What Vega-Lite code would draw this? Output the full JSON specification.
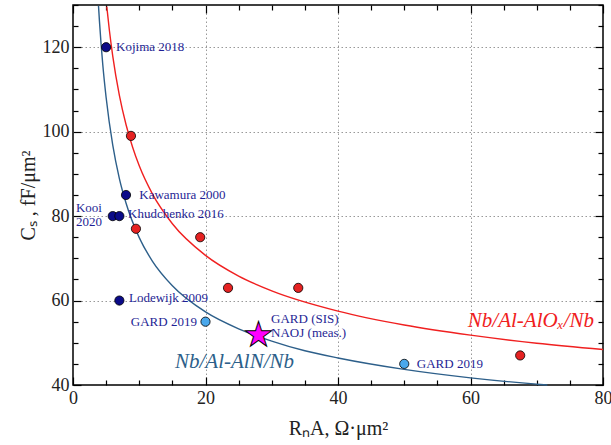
{
  "$schema": "https://vega.github.io/schema/vega-lite/v6.json",
  "width": 530,
  "height": 380,
  "autosize": {"type": "none"},
  "padding": {"left": 73, "top": 5, "right": 8, "bottom": 60},
  "config": {
    "view": {"stroke": "#000", "strokeWidth": 1.5}
  },
  "resolve": {"axis": {"x": "independent", "y": "independent"}},
  "layer": [
    {
      "data": {"values": [
        {"x": 3.85, "y": 129.8, "s": "AlN"}, {"x": 4, "y": 126, "s": "AlN"}, {"x": 4.5, "y": 115.8, "s": "AlN"},
        {"x": 5, "y": 108.1, "s": "AlN"}, {"x": 6, "y": 96.8, "s": "AlN"}, {"x": 7, "y": 88.9, "s": "AlN"},
        {"x": 8, "y": 83.1, "s": "AlN"}, {"x": 10, "y": 74.9, "s": "AlN"}, {"x": 12, "y": 69.3, "s": "AlN"},
        {"x": 15, "y": 63.5, "s": "AlN"}, {"x": 20, "y": 57.3, "s": "AlN"}, {"x": 25, "y": 53.3, "s": "AlN"},
        {"x": 30, "y": 50.4, "s": "AlN"}, {"x": 35, "y": 48.1, "s": "AlN"}, {"x": 40, "y": 46.4, "s": "AlN"},
        {"x": 50, "y": 43.7, "s": "AlN"}, {"x": 60, "y": 41.7, "s": "AlN"}, {"x": 70, "y": 40.2, "s": "AlN"},
        {"x": 71.6, "y": 40.0, "s": "AlN"},
        {"x": 5.1, "y": 129.6, "s": "AlOx"}, {"x": 5.5, "y": 123.9, "s": "AlOx"}, {"x": 6, "y": 117.9, "s": "AlOx"},
        {"x": 7, "y": 108.6, "s": "AlOx"}, {"x": 8, "y": 101.7, "s": "AlOx"}, {"x": 9, "y": 96.3, "s": "AlOx"},
        {"x": 10, "y": 91.9, "s": "AlOx"}, {"x": 12, "y": 85.2, "s": "AlOx"}, {"x": 15, "y": 78.2, "s": "AlOx"},
        {"x": 20, "y": 70.7, "s": "AlOx"}, {"x": 25, "y": 65.8, "s": "AlOx"}, {"x": 30, "y": 62.3, "s": "AlOx"},
        {"x": 40, "y": 57.5, "s": "AlOx"}, {"x": 50, "y": 54.2, "s": "AlOx"}, {"x": 60, "y": 51.8, "s": "AlOx"},
        {"x": 70, "y": 49.9, "s": "AlOx"}, {"x": 80, "y": 48.4, "s": "AlOx"}
      ]},
      "mark": {"type": "line", "strokeWidth": 1.4, "interpolate": "monotone"},
      "encoding": {
        "x": {
          "field": "x", "type": "quantitative",
          "scale": {"domain": [0, 80], "nice": false, "zero": false},
          "axis": {
            "orient": "bottom",
            "values": [0,5,10,15,20,25,30,35,40,45,50,55,60,65,70,75,80],
            "labelExpr": "datum.value % 20 === 0 ? datum.label : ''",
            "labelOverlap": false, "labelFlush": false,
            "tickSize": {"condition": {"test": "datum.value % 20 === 0", "value": -8}, "value": -5},
            "tickColor": "#000", "tickWidth": 1.2,
            "grid": true,
            "gridOpacity": {"condition": {"test": "datum.value % 20 === 0 && datum.value > 0 && datum.value < 80", "value": 1}, "value": 0},
            "gridDash": [1.5, 2.5], "gridColor": "#999", "gridWidth": 1,
            "domain": false,
            "labelFont": "Liberation Serif", "labelFontSize": 18, "labelColor": "#222", "labelPadding": 12,
            "title": "RₙA, Ω·μm²", "titleFont": "Liberation Serif", "titleFontSize": 20, "titleFontWeight": "normal", "titleColor": "#222", "titlePadding": 8
          }
        },
        "y": {
          "field": "y", "type": "quantitative",
          "scale": {"domain": [40, 130], "nice": false, "zero": false},
          "axis": {
            "orient": "left",
            "values": [40,45,50,55,60,65,70,75,80,85,90,95,100,105,110,115,120,125,130],
            "labelExpr": "datum.value % 20 === 0 ? datum.label : ''",
            "labelOverlap": false, "labelFlush": false,
            "tickSize": {"condition": {"test": "datum.value % 20 === 0", "value": -8}, "value": -5},
            "tickColor": "#000", "tickWidth": 1.2,
            "grid": true,
            "gridOpacity": {"condition": {"test": "datum.value % 20 === 0 && datum.value > 40", "value": 1}, "value": 0},
            "gridDash": [1.5, 2.5], "gridColor": "#999", "gridWidth": 1,
            "domain": false,
            "labelFont": "Liberation Serif", "labelFontSize": 18, "labelColor": "#222", "labelPadding": 12,
            "title": "Cₛ , fF/μm²", "titleFont": "Liberation Serif", "titleFontSize": 20, "titleFontWeight": "normal", "titleColor": "#222", "titlePadding": 4
          }
        },
        "color": {
          "field": "s", "type": "nominal",
          "scale": {"domain": ["AlN", "AlOx"], "range": ["#2d5f8a", "#f02020"]},
          "legend": null
        }
      }
    },
    {
      "data": {"values": [
        {"x": 5, "y": 120, "g": "navy"}, {"x": 8, "y": 85, "g": "navy"}, {"x": 6, "y": 80, "g": "navy"},
        {"x": 7, "y": 80, "g": "navy"}, {"x": 7, "y": 60, "g": "navy"},
        {"x": 20, "y": 55, "g": "light"}, {"x": 50, "y": 45, "g": "light"},
        {"x": 8.75, "y": 99, "g": "red"}, {"x": 9.5, "y": 77, "g": "red"}, {"x": 19.2, "y": 75, "g": "red"},
        {"x": 23.4, "y": 63, "g": "red"}, {"x": 34, "y": 63, "g": "red"}, {"x": 67.5, "y": 47, "g": "red"}
      ]},
      "mark": {"type": "circle", "size": 85, "stroke": "#000", "strokeWidth": 0.8, "opacity": 1},
      "encoding": {
        "x": {
          "field": "x", "type": "quantitative",
          "axis": {
            "orient": "top",
            "values": [0,5,10,15,20,25,30,35,40,45,50,55,60,65,70,75,80],
            "labels": false, "grid": false, "domain": false, "title": null,
            "tickSize": {"condition": {"test": "datum.value % 20 === 0", "value": -8}, "value": -5},
            "tickColor": "#000", "tickWidth": 1.2
          }
        },
        "y": {
          "field": "y", "type": "quantitative",
          "axis": {
            "orient": "right",
            "values": [40,45,50,55,60,65,70,75,80,85,90,95,100,105,110,115,120,125,130],
            "labels": false, "grid": false, "domain": false, "title": null,
            "tickSize": {"condition": {"test": "datum.value % 20 === 0", "value": -8}, "value": -5},
            "tickColor": "#000", "tickWidth": 1.2
          }
        },
        "fill": {
          "field": "g", "type": "nominal",
          "scale": {"domain": ["navy", "light", "red"], "range": ["#0a0a88", "#4aa8ec", "#e52222"]},
          "legend": null
        }
      }
    },
    {
      "data": {"values": [{"x": 28, "y": 51.5, "t": "★"}]},
      "mark": {"type": "text", "align": "center", "baseline": "middle", "fontSize": 34, "font": "DejaVu Sans", "fill": "#ff00ff", "stroke": "#000", "strokeWidth": 1},
      "encoding": {
        "x": {"field": "x", "type": "quantitative", "axis": null},
        "y": {"field": "y", "type": "quantitative", "axis": null},
        "text": {"field": "t", "type": "nominal"}
      }
    },
    {
      "data": {"values": [
        {"x": 6.5, "y": 120, "t": "Kojima 2018"},
        {"x": 10, "y": 85, "t": "Kawamura 2000"},
        {"x": 8.3, "y": 80.5, "t": "Khudchenko 2016"},
        {"x": 0.45, "y": 82, "t": "Kooi"},
        {"x": 0.45, "y": 78.7, "t": "2020"},
        {"x": 8.45, "y": 60.5, "t": "Lodewijk 2009"},
        {"x": 29.9, "y": 55.6, "t": "GARD (SIS)"},
        {"x": 29.9, "y": 52.2, "t": "NAOJ (meas.)"},
        {"x": 51.9, "y": 45, "t": "GARD 2019"}
      ]},
      "mark": {"type": "text", "align": "left", "baseline": "middle", "fontSize": 13, "color": "#1f1f95", "font": "Liberation Serif"},
      "encoding": {
        "x": {"field": "x", "type": "quantitative", "axis": null},
        "y": {"field": "y", "type": "quantitative", "axis": null},
        "text": {"field": "t", "type": "nominal"}
      }
    },
    {
      "data": {"values": [{"x": 18.7, "y": 54.9, "t": "GARD 2019"}]},
      "mark": {"type": "text", "align": "right", "baseline": "middle", "fontSize": 13, "color": "#1f1f95", "font": "Liberation Serif"},
      "encoding": {
        "x": {"field": "x", "type": "quantitative", "axis": null},
        "y": {"field": "y", "type": "quantitative", "axis": null},
        "text": {"field": "t", "type": "nominal"}
      }
    },
    {
      "data": {"values": [{"x": 15.4, "y": 45.4, "t": "Nb/Al-AlN/Nb"}]},
      "mark": {"type": "text", "align": "left", "baseline": "middle", "fontSize": 21, "fontStyle": "italic", "color": "#2d5f8a", "font": "Liberation Serif"},
      "encoding": {
        "x": {"field": "x", "type": "quantitative", "axis": null},
        "y": {"field": "y", "type": "quantitative", "axis": null},
        "text": {"field": "t", "type": "nominal"}
      }
    },
    {
      "data": {"values": [{"x": 59.6, "y": 55.1, "t": "Nb/Al-AlOₓ/Nb"}]},
      "mark": {"type": "text", "align": "left", "baseline": "middle", "fontSize": 21, "fontStyle": "italic", "color": "#f02020", "font": "Liberation Serif"},
      "encoding": {
        "x": {"field": "x", "type": "quantitative", "axis": null},
        "y": {"field": "y", "type": "quantitative", "axis": null},
        "text": {"field": "t", "type": "nominal"}
      }
    }
  ]
}
